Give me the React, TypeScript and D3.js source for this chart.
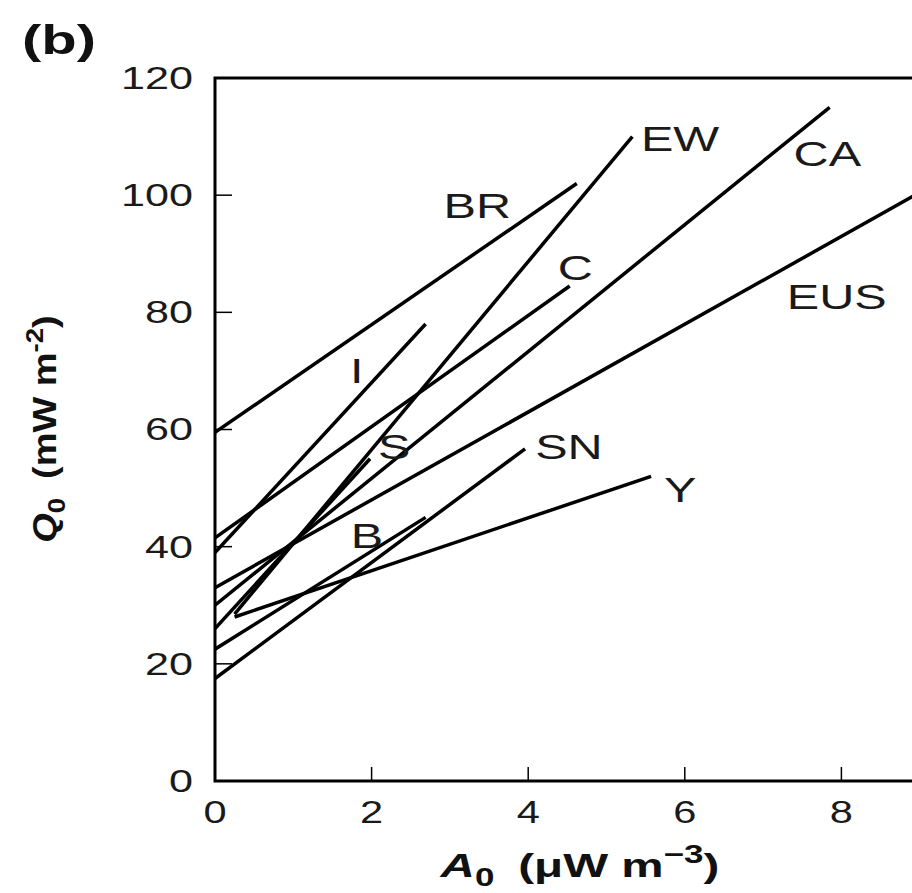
import React from "react";
import * as d3 from "d3";

// ---- data ----
const provinces = ["BR", "EW", "CA", "C", "EUS", "I", "S", "SN", "Y", "B"];
const a0Start = [0, 0.25, 0, 0, 0, 0, 0, 0, 0.25, 0];
const q0Start = [59.5, 28.5, 30, 41.5, 33, 39, 26, 17.5, 28, 22.5];
const a0End = [4.62, 5.33, 7.85, 4.53, 9.3, 2.69, 1.98, 3.96, 5.57, 2.69];
const q0End = [102, 110, 115, 84.5, 102.7, 78, 55, 56.7, 52, 45];
const labelA = [3.35, 5.94, 7.82, 4.6, 7.94, 1.81, 2.29, 4.52, 5.94, 1.94];
const labelQ = [98.3, 109.7, 107.2, 87.7, 82.8, 70.1, 57.2, 57.2, 49.8, 42.0];
const xTicks = [0, 2, 4, 6, 8];
const yTicks = [0, 20, 40, 60, 80, 100, 120];

const W = 912;
const H = 893;
const left = 215;
const top = 78;
const bottom = 781;
const xPerUnit = 78.3;

export default function App() {
  const x = d3.scaleLinear().domain([0, 9]).range([left, left + 9 * xPerUnit]);
  const y = d3.scaleLinear().domain([0, 120]).range([bottom, top]);
  const line = d3
    .line<[number, number]>()
    .x((d) => x(d[0]))
    .y((d) => y(d[1]));
  const font = "'Liberation Sans', Arial, Helvetica, sans-serif";
  const right = x(9);

  return (
    <svg
      width={W}
      height={H}
      style={{ position: "absolute", left: 0, top: 0, background: "#fff" }}
      fontFamily={font}
    >
      <defs>
        <clipPath id="plotclip">
          <rect x={left} y={top} width={right - left} height={bottom - top} />
        </clipPath>
      </defs>
      {/* frame */}
      <rect
        x={left}
        y={top}
        width={right - left}
        height={bottom - top}
        fill="none"
        stroke="#000"
        strokeWidth={3}
      />
      {/* ticks */}
      {xTicks.map((t) => (
        <g key={"xt" + t}>
          <line x1={x(t)} x2={x(t)} y1={bottom} y2={bottom - 14} stroke="#000" strokeWidth={1.5} />
          <text
            transform={`translate(${x(t)},${bottom + 31}) scale(1.3,1)`}
            textAnchor="middle"
            dominantBaseline="central"
            fontSize={32}
            fill="#1a1a1a"
          >
            {t}
          </text>
        </g>
      ))}
      {yTicks.map((t) => (
        <g key={"yt" + t}>
          <line x1={left} x2={left + 17} y1={y(t)} y2={y(t)} stroke="#000" strokeWidth={1.5} />
          <text
            transform={`translate(193,${y(t)}) scale(1.35,1)`}
            textAnchor="end"
            dominantBaseline="central"
            fontSize={32}
            fill="#1a1a1a"
          >
            {t}
          </text>
        </g>
      ))}
      {/* lines */}
      <g clipPath="url(#plotclip)">
        {provinces.map((p, i) => (
          <path
            key={p}
            d={line([
              [a0Start[i], q0Start[i]],
              [a0End[i], q0End[i]],
            ]) || ""}
            fill="none"
            stroke="#000"
            strokeWidth={3.5}
          />
        ))}
      </g>
      {/* labels */}
      {provinces.map((p, i) => (
        <text
          key={"l" + p}
          transform={`translate(${x(labelA[i])},${y(labelQ[i])}) scale(1.35,1)`}
          textAnchor="middle"
          dominantBaseline="central"
          fontSize={36}
          fill="#1a1a1a"
        >
          {p}
        </text>
      ))}
      {/* panel tag */}
      <text
        transform="translate(22,54) scale(1.45,1)"
        fontSize={40}
        fontWeight="bold"
        fill="#111"
      >
        (b)
      </text>
      {/* x label */}
      <text
        transform="translate(580,877) scale(1.4,1)"
        textAnchor="middle"
        fontSize={34}
        fontWeight="bold"
        fill="#111"
      >
        <tspan fontStyle="italic">A</tspan>
        <tspan fontSize={25} dy={9}>0</tspan>
        <tspan dy={-9}>{"\u2002(\u03bcW m"}</tspan>
        <tspan fontSize={25} dy={-14}>{"\u22123"}</tspan>
        <tspan dy={14}>)</tspan>
      </text>
      {/* y label */}
      <text
        transform={`translate(56,429) rotate(-90) scale(1.15,1)`}
        textAnchor="middle"
        fontSize={33}
        fontWeight="bold"
        fill="#111"
      >
        <tspan fontStyle="italic">Q</tspan>
        <tspan fontSize={24} dy={9}>0</tspan>
        <tspan dy={-9}>{"\u2002(mW m"}</tspan>
        <tspan fontSize={24} dy={-13}>{"-2"}</tspan>
        <tspan dy={13}>)</tspan>
      </text>
    </svg>
  );
}
